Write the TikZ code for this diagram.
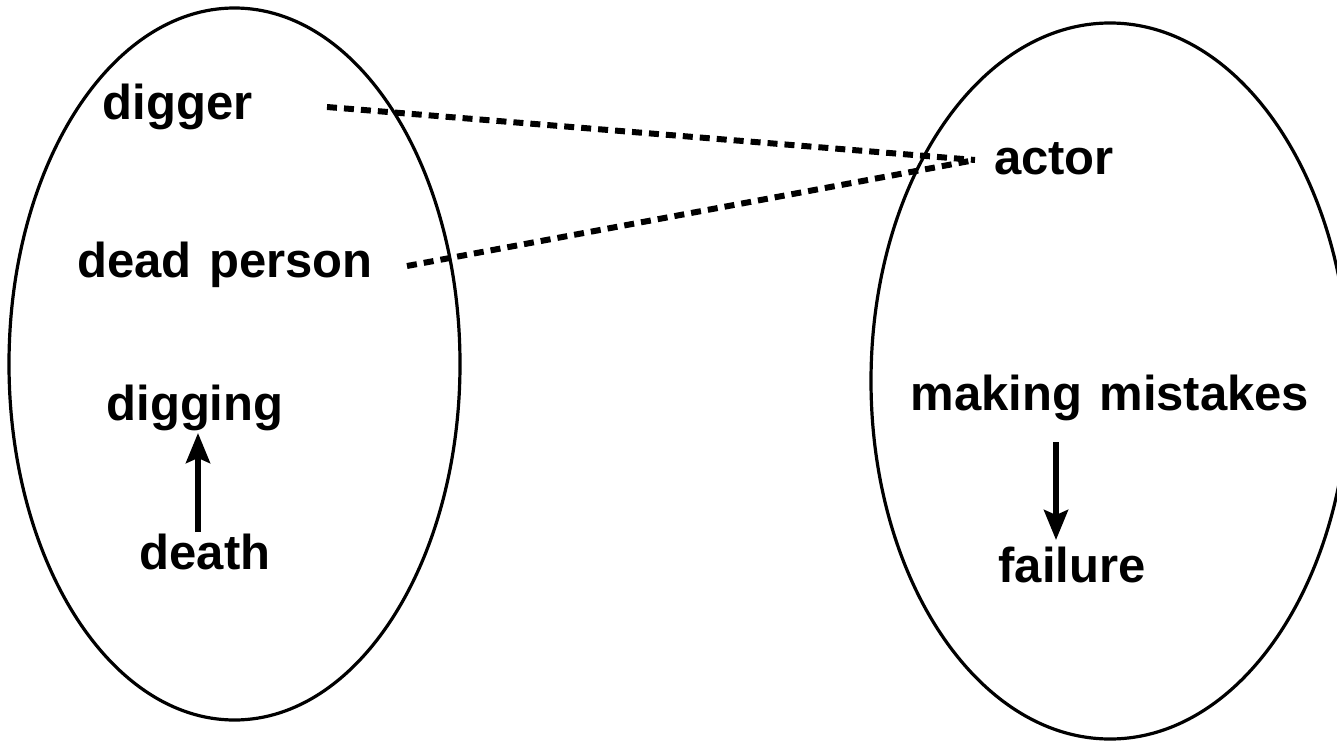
\documentclass[tikz,border=0pt]{standalone}
\usepackage{fontspec}
\setmainfont{Liberation Sans}
\usetikzlibrary{shapes.geometric,arrows.meta}
\begin{document}
\begin{tikzpicture}[x=1pt,y=-1pt,
  group/.style={draw,ellipse,line width=3.2pt,inner sep=0pt},
  lbl/.style={anchor=base,inner sep=0pt,font=\fontsize{49}{52}\selectfont\bfseries},
  link/.style={line width=6pt,dash pattern=on 10pt off 7pt},
  cause/.style={line width=5.5pt,-{Stealth[length=30pt,width=24pt,inset=5pt]}}]
\useasboundingbox (0,0) rectangle (1337,741);
\clip (0,0) rectangle (1337,741);
\node[group,minimum width=451pt,minimum height=712pt] (left) at (234.5,364) {};
\node[group,minimum width=478pt,minimum height=716pt] (right) at (1110,381) {};
\node[lbl] (digger) at (177.5,119) {digger};
\node[lbl] (dead) at (225,277) {dead\hspace{0.35em}person};
\node[lbl] (digging) at (195,420) {digging};
\node[lbl] (death) at (205,569) {death};
\node[lbl] (actor) at (1054,174) {actor};
\node[lbl] (mistakes) at (1110,410) {making\hspace{0.35em}mistakes};
\node[lbl] (failure) at (1072,582) {failure};
\coordinate (dg) at (327,107);
\coordinate (dp) at (407,266);
\coordinate (ac) at (975,160);
\draw[link] (dg) -- (ac);
\draw[link] (dp) -- (ac);
\coordinate (a1) at (198,532);
\coordinate (a2) at (198,433);
\coordinate (b1) at (1056,442);
\coordinate (b2) at (1056,540);
\draw[cause] (a1) -- (a2);
\draw[cause] (b1) -- (b2);
\end{tikzpicture}
\end{document}
